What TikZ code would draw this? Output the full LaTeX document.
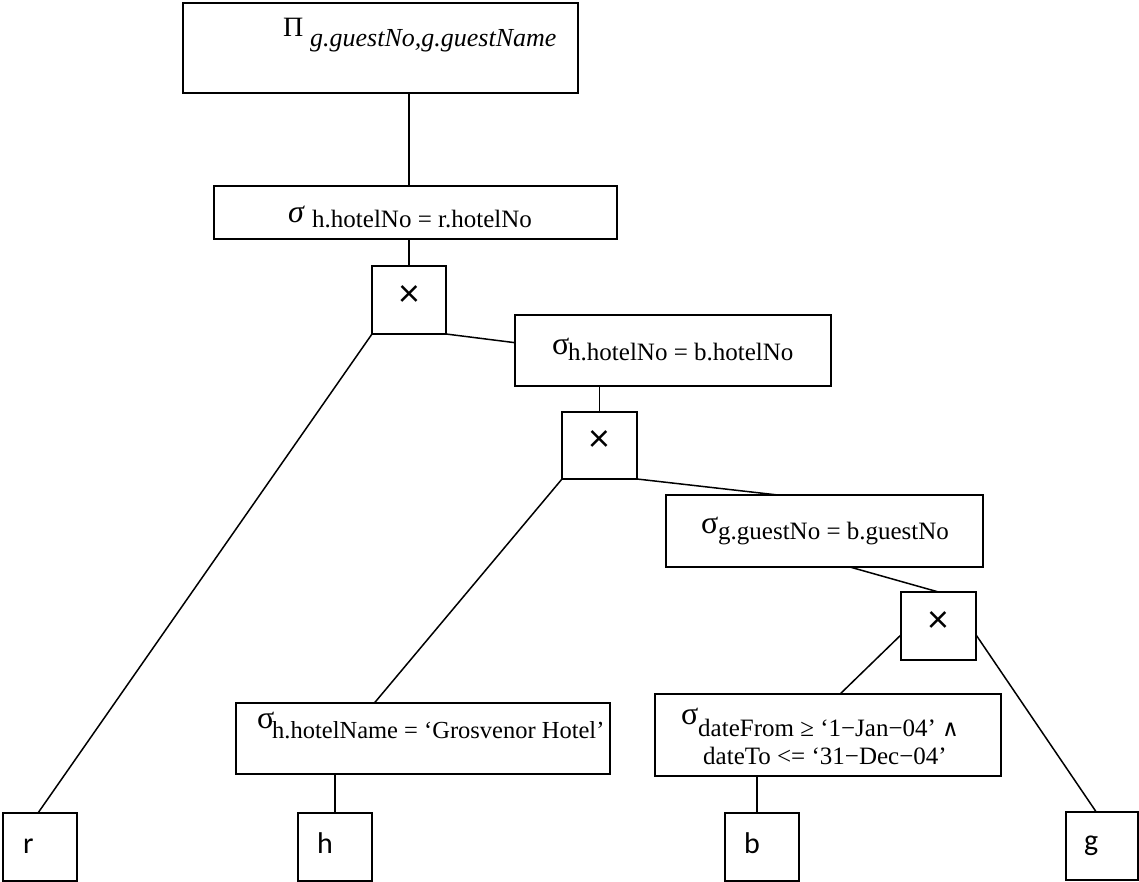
\documentclass[tikz,border=0pt]{standalone}
\usepackage{fontspec}
\setmainfont{Liberation Serif}
\newfontfamily\calfont{Carlito}
\newfontfamily\djfont{DejaVu Serif}
\usetikzlibrary{calc}
\begin{document}
\begin{tikzpicture}[x=1pt,y=-1pt,
  opbox/.style 2 args={draw, line width=1.6pt, minimum width=#1, minimum height=#2,
    inner sep=0pt, outer sep=0pt},
  edge/.style={line width=1.5pt},
  sub/.style={inner sep=0pt, anchor=base west, font=\fontsize{25}{29}\selectfont},
  sym/.style={inner sep=0pt, anchor=base west, font=\fontsize{32}{34}\selectfont},
  rel/.style={inner sep=0pt, anchor=base west, font=\calfont\fontsize{30}{34}\selectfont},
  cross/.style={inner sep=0pt, anchor=center, font=\calfont\fontsize{40}{44}\selectfont},
]
\useasboundingbox (0,0) rectangle (1139,882);

% operator boxes
\node[opbox={395pt}{90pt}] (pi) at (380.5,48) {};
\node[opbox={403pt}{53pt}] (s1) at (415.5,212.5) {};
\node[opbox={74pt}{68pt}]  (x1) at (409,300) {};
\node[opbox={316pt}{71pt}] (s2) at (673,350.5) {};
\node[opbox={75pt}{67pt}]  (x2) at (599.5,445.5) {};
\node[opbox={317pt}{72pt}] (s3) at (824.5,531) {};
\node[opbox={75pt}{68pt}]  (x3) at (938.5,626) {};
\node[opbox={374pt}{71pt}] (s4) at (423,738.5) {};
\node[opbox={346pt}{82pt}] (s5) at (828,735) {};

% relation boxes
\node[opbox={74pt}{68pt}] (r) at (40,847) {};
\node[opbox={74pt}{68pt}] (h) at (335,847) {};
\node[opbox={74pt}{68pt}] (b) at (762,847) {};
\node[opbox={72pt}{68pt}] (g) at (1102,846) {};

% labels
\node[sym, font=\fontsize{28}{30}\selectfont] (pisym) at (283,37) {Π};
\node[sub, font=\itshape\fontsize{26}{30}\selectfont] (pisub) at (310,47) {g.guestNo,g.guestName};

\node[sym, font=\itshape\fontsize{32}{34}\selectfont] (s1sym) at (288,223) {σ};
\node[sub] (s1sub) at (312,228) {h.hotelNo = r.hotelNo};

\node[sym] (s2sym) at (552,354) {σ};
\node[sub] (s2sub) at (568,360) {h.hotelNo = b.hotelNo};

\node[sym] (s3sym) at (701,533) {σ};
\node[sub] (s3sub) at (718,539) {g.guestNo = b.guestNo};

\node[sym] (s4sym) at (257,728) {σ};
\node[sub, font=\fontsize{24.5}{29}\selectfont] (s4sub) at (272,738) {h.hotelName = ‘Grosvenor Hotel’};

\node[sym] (s5sym) at (681,724) {σ};
\node[sub] (s5suba) at (698,736) {dateFrom ≥ ‘1−Jan−04’ {\djfont\fontsize{23}{26}\selectfont ∧}};
\node[sub] (s5subb) at (703,764) {dateTo <= ‘31−Dec−04’};

\node[cross] (x1sym) at ($(x1)+(0,-4)$) {×};
\node[cross] (x2sym) at ($(x2)+(0,-4)$) {×};
\node[cross] (x3sym) at ($(x3)+(0,-4)$) {×};

\node[rel] (rtxt) at (23,853) {r};
\node[rel] (htxt) at (317,853) {h};
\node[rel] (btxt) at (744,853) {b};
\node[rel] (gtxt) at (1084,850) {g};

% tree edges
\draw[edge] (pi.south -| x1.north) -- (s1.north -| x1.north);
\draw[edge] (s1.south -| x1.north) -- (x1.north);
\draw[edge] (x1.south west) -- ($(r.north)+(-2,0)$);
\draw[edge] (x1.south east) -- ($(s2.north west)!0.39!(s2.south west)$);
\draw[edge] (s2.south -| x2.north) -- (x2.north);
\draw[edge] (x2.south west) -- ($(s4.north west)!0.37!(s4.north east)$);
\draw[edge] (x2.south east) -- ($(s3.north west)!0.353!(s3.north east)$);
\draw[edge] ($(s3.south west)!0.58!(s3.south east)$) -- (x3.north);
\draw[edge] ($(x3.north west)!0.63!(x3.south west)$) -- ($(s5.north west)!0.535!(s5.north east)$);
\draw[edge] ($(x3.north east)!0.63!(x3.south east)$) -- ($(g.north west)!0.42!(g.north east)$);
\draw[edge] (s4.south -| h.north) -- (h.north);
\draw[edge] ($(s5.south)+(-71,0)$) -- ($(b.north)+(-5,0)$);
\end{tikzpicture}
\end{document}
